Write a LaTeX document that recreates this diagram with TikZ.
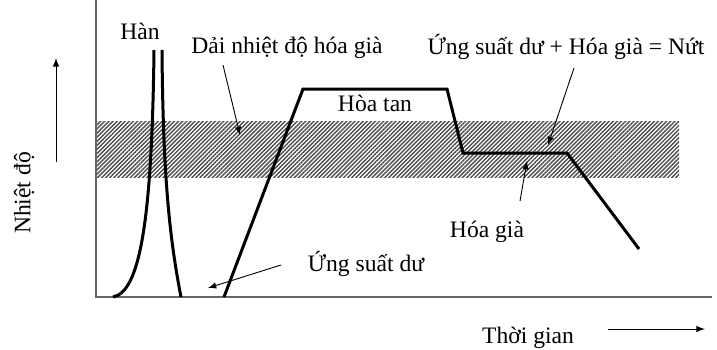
\documentclass[tikz,border=0pt]{standalone}
\usepackage{fontspec}
\setmainfont{Liberation Serif}
\usetikzlibrary{patterns.meta}

\tikzset{
  lbl/.style={font=\fontsize{11.8}{14}\selectfont, inner sep=0pt},
  curve/.style={line width=1.5pt, line join=miter},
  note/.style={->, line width=0.45pt},
  >=latex
}

\begin{document}
\begin{tikzpicture}[x=0.5pt, y=-0.5pt]
  \useasboundingbox (0, 0) rectangle (717, 349);
  % band of aging temperatures
  \fill[pattern={Lines[angle=45, distance=1.45pt, line width=0.7pt]}, pattern color=black!70]
    (96, 121) rectangle (679, 177);
  % axes
  \coordinate (o) at (96, 297);
  \coordinate (ytop) at (96, 0);
  \coordinate (xend) at (712, 297);
  \draw[gray!80!black, line width=0.8pt] (ytop) -- (o) -- (xend);
  \draw[->, line width=0.5pt] (56, 162) -- (56, 58);
  \draw[->, line width=0.5pt] (608, 329) -- (705, 329);
  % weld peak
  \draw[curve] (113, 297) .. controls (140, 292) and (152, 220) .. (154, 50);
  \draw[curve] (162, 50) .. controls (163, 180) and (170, 240) .. (181, 297);
  % solution + aging cycle
  \draw[curve] (224, 297) -- (303, 89) -- (447, 89) -- (463, 153)
    -- (567, 153) -- (639, 249);
  % labels
  \node[lbl, rotate=90] (nhietdo) at (24, 193) {Nhiệt độ};
  \node[lbl] (thoigian) at (528, 338) {Thời gian};
  \node[lbl] (han) at (140, 31) {Hàn};
  \node[lbl] (dai) at (287, 48) {Dải nhiệt độ hóa già};
  \node[lbl] (hoatan) at (375, 103) {Hòa tan};
  \node[lbl] (nut) at (566, 47) {Ứng suất dư + Hóa già = Nứt};
  \node[lbl] (hoagia) at (487, 232) {Hóa già};
  \node[lbl] (usd) at (366, 264) {Ứng suất dư};
  % pointers
  \coordinate (p1) at (223, 65);  \coordinate (q1) at (240, 135);
  \coordinate (p2) at (574, 68);  \coordinate (q2) at (548, 145);
  \coordinate (p3) at (520, 201); \coordinate (q3) at (527, 161);
  \coordinate (p4) at (281, 265); \coordinate (q4) at (208, 288);
  \draw[note] (p1) -- (q1);
  \draw[note] (p2) -- (q2);
  \draw[note] (p3) -- (q3);
  \draw[note] (p4) -- (q4);
\end{tikzpicture}
\end{document}
